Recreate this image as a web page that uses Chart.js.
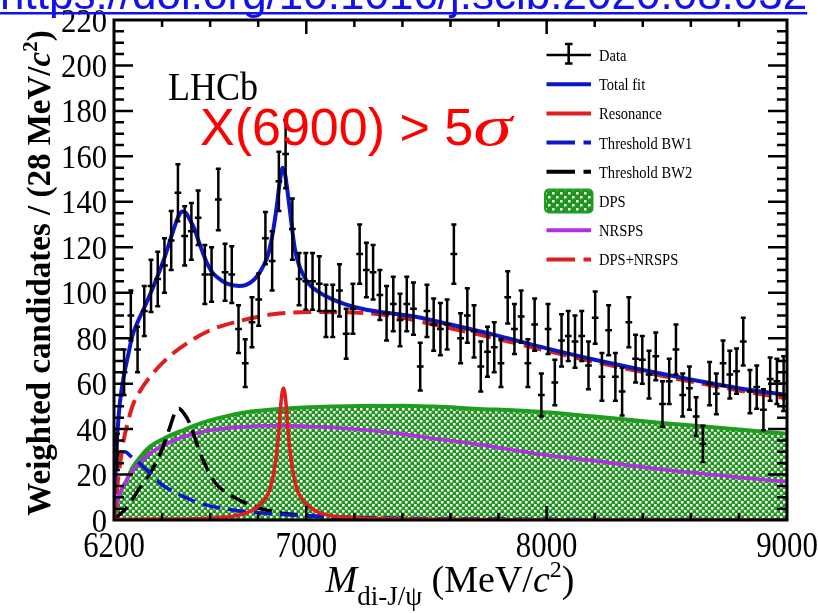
<!DOCTYPE html>
<html>
<head>
<meta charset="utf-8">
<title>LHCb di-J/psi mass spectrum</title>
<script src="https://cdn.jsdelivr.net/npm/chart.js@4.4.0/dist/chart.umd.min.js"></script>
<style>
  html, body { margin: 0; padding: 0; background: #fff; }
  #wrap { width: 818px; height: 613px; }
</style>
</head>
<body>
<div id="wrap"><canvas id="myChart" width="818" height="613"></canvas></div>
<script>
// bin centres of the 28 MeV bins and the weighted candidates in each
const massBins = [6214, 6242, 6270, 6298, 6326, 6354, 6382, 6410, 6438, 6466,
    6494, 6522, 6550, 6578, 6606, 6634, 6662, 6690, 6718, 6746,
    6774, 6802, 6830, 6858, 6886, 6914, 6942, 6970, 6998, 7026,
    7054, 7082, 7110, 7138, 7166, 7194, 7222, 7250, 7278, 7306,
    7334, 7362, 7390, 7418, 7446, 7474, 7502, 7530, 7558, 7586,
    7614, 7642, 7670, 7698, 7726, 7754, 7782, 7810, 7838, 7866,
    7894, 7922, 7950, 7978, 8006, 8034, 8062, 8090, 8118, 8146,
    8174, 8202, 8230, 8258, 8286, 8314, 8342, 8370, 8398, 8426,
    8454, 8482, 8510, 8538, 8566, 8594, 8622, 8650, 8678, 8706,
    8734, 8762, 8790, 8818, 8846, 8874, 8902, 8930, 8958, 8986];
const candidates = [30, 65, 90, 75, 92, 103, 106, 112, 123, 144,
    125, 127, 133, 108, 108, 141, 109, 108, 84, 69,
    87, 97, 124, 114, 149, 161, 128, 106, 105, 105,
    104, 92, 92, 101, 82, 93, 117, 110, 109, 99,
    91, 95, 88, 95, 93, 67.5, 92, 86, 84, 86,
    117, 80, 90, 83, 67.5, 74, 76, 69, 98, 84,
    89.5, 69, 86, 55, 84, 60.5, 79, 81, 78.5, 81,
    68, 89, 63, 83.5, 63, 56.5, 87, 71, 70.5, 64,
    72, 51, 61, 75, 55, 58, 45.5, 33.5, 60, 55.5,
    69, 64, 65.5, 78.5, 56.5, 58.5, 48.5, 62, 61, 60];
const candErrors = [8, 10, 11, 10, 11, 11.5, 12, 12, 13, 12.5,
    13, 12.5, 12, 13, 12, 13.5, 12.5, 12.5, 10.5, 10.5,
    11, 11.5, 11.5, 13, 13, 15, 13.5, 11.5, 12.5, 12.5,
    12, 11.5, 11.5, 11.5, 11, 11, 13, 12, 12, 11,
    12, 12, 11.5, 12, 11.5, 10.5, 11.5, 11.5, 11.5, 11,
    13, 11, 12, 11.5, 11, 11, 11, 10.5, 11.5, 11,
    11.5, 10.5, 11.5, 9.5, 11, 10, 11.5, 11, 11.5, 11,
    10.5, 11.5, 10.5, 11, 10.5, 10.5, 11, 10.5, 10.5, 10.5,
    10.5, 10, 10, 11, 9.5, 9.5, 8.5, 8, 9.5, 9,
    10, 10.5, 10, 10.5, 9.5, 9.5, 9, 9.5, 10, 12];
const binHalfWidth = 14;

// fit curves
const totalFitMass = [6200, 6205, 6211, 6218, 6225, 6240, 6260, 6275, 6300, 6322, 6363, 6412, 6447, 6470, 6485, 6500, 6516, 6535, 6551, 6570, 6585, 6605, 6627, 6670, 6720, 6750, 6780, 6800, 6820, 6842, 6860, 6876, 6890, 6902, 6912, 6925, 6940, 6953, 6970, 6987, 7010, 7049, 7100, 7160, 7250, 7350, 7450, 7600, 7800, 8000, 8200, 8400, 8600, 8800, 9000];
const totalFitValues = [8, 24, 34, 44, 52, 63, 73, 80.5, 87.5, 92.5, 102.5, 116, 127.5, 134, 135.7, 135, 132, 128, 123, 117.5, 113.5, 109.5, 107, 104, 103, 103.5, 105.5, 108, 111.5, 117, 126, 137, 149, 155, 152, 142, 129, 119, 112, 108, 104, 100.5, 97.5, 95, 92.5, 91, 89.5, 86, 81, 75.5, 70.5, 66, 61.8, 58, 55];

const resonanceMass = [6200, 6400, 6600, 6700, 6750, 6800, 6830, 6850, 6870, 6885, 6895, 6905, 6915, 6925, 6940, 6960, 6980, 7010, 7060, 7110, 7200, 7400, 8000, 9000];
const resonanceValues = [0.2, 0.4, 0.8, 1.8, 3, 6, 9.5, 14, 24, 38, 52, 58, 52, 38, 24, 14, 9.5, 6, 3, 1.8, 1, 0.4, 0.1, 0];

const bw1Mass = [6200, 6205, 6210, 6225, 6245, 6270, 6300, 6350, 6400, 6450, 6500, 6550, 6600, 6700, 6800, 6900, 7000, 7200, 7500, 8000, 9000];
const bw1Values = [5, 16, 24, 29, 30, 28, 25.5, 20.5, 15.5, 12.3, 9.8, 7.6, 6.2, 4.3, 3.2, 2.4, 1.8, 1.1, 0.6, 0.3, 0.1];

const bw2Mass = [6200, 6250, 6300, 6350, 6400, 6430, 6455, 6470, 6490, 6515, 6540, 6560, 6590, 6620, 6660, 6700, 6750, 6800, 6900, 7000, 7100, 7300, 7600, 8000, 9000];
const bw2Values = [0.5, 5, 13, 20.5, 31, 40, 47.5, 49, 47, 42.5, 35, 29, 22, 16.5, 12.5, 10, 7.3, 5.3, 3, 2, 1.3, 0.7, 0.3, 0.1, 0];

const dpsMass = [6200, 6205, 6212, 6225, 6250, 6280, 6315, 6350, 6420, 6490, 6560, 6630, 6770, 6970, 7250, 7400, 7530, 7700, 7950, 8200, 8500, 8750, 9000];
const dpsValues = [0, 4, 7.5, 11.7, 17, 23.5, 28.5, 32.3, 36.5, 39.6, 42.5, 44.7, 47.7, 49.4, 50.2, 50.3, 49.9, 49, 47.7, 45.5, 42.5, 40.3, 38];

const nrspsMass = [6200, 6205, 6212, 6225, 6250, 6280, 6315, 6350, 6420, 6490, 6560, 6630, 6730, 6830, 6940, 7040, 7150, 7250, 7400, 7530, 7700, 7950, 8200, 8500, 8750, 9000];
const nrspsValues = [0, 4, 7.5, 12, 17, 22, 26, 29.3, 33.5, 36.7, 38.6, 39.9, 40.9, 41.5, 41.4, 41, 40.4, 39.6, 37.8, 35.9, 33.5, 29.3, 26, 22, 19.3, 16.8];

const dpsNrspsMass = [6200, 6206, 6212, 6218, 6228, 6240, 6260, 6280, 6310, 6350, 6420, 6500, 6600, 6720, 6860, 7040, 7250, 7400, 7550, 7700, 8000, 8200, 8500, 8800, 9000];
const dpsNrspsValues = [0, 7, 13, 19, 27, 35, 44, 51, 57, 63, 71, 77.5, 83.5, 87.5, 90.5, 91.5, 91, 89, 85.5, 82, 74.5, 69.5, 63, 57, 53.5];

const xTickLabels = [6200, 7000, 8000, 9000];
const yTickLabels = [0, 20, 40, 60, 80, 100, 120, 140, 160, 180, 200, 220];
const legendOrder = ['Data', 'Total fit', 'Resonance', 'Threshold BW1', 'Threshold BW2', 'DPS', 'NRSPS', 'DPS+NRSPS'];

const SERIF = "'Liberation Serif', 'DejaVu Serif', serif";
const SANS = "'Liberation Sans', Arial, sans-serif";
const GREEN = '#1f9d1f';
const DASH = [18, 8];

function toPoints(xs, ys) {
    return xs.map((x, i) => ({ x: x, y: ys[i] }));
}

function makeHatch(size, dot) {
    const c = document.createElement('canvas');
    c.width = size; c.height = size;
    const g = c.getContext('2d');
    g.fillStyle = '#1e961e';
    g.fillRect(0, 0, size, size);
    g.fillStyle = '#ffffff';
    g.fillRect(0, 0, dot, dot);
    g.fillRect(size / 2, size / 2, dot, dot);
    return g.createPattern(c, 'repeat');
}

function drawRuns(g, runs, x0, baseY, align) {
    let total = 0;
    runs.forEach(r => { g.font = r.font; r.w = g.measureText(r.text).width * (r.sx || 1); total += r.w; });
    let x = align === 'center' ? x0 - total / 2 : x0;
    g.textAlign = 'left';
    runs.forEach(r => {
        g.save();
        g.translate(x, baseY + (r.dy || 0));
        g.scale(r.sx || 1, 1);
        g.font = r.font;
        g.fillText(r.text, 0, 0);
        g.restore();
        x += r.w;
    });
}

function squeezedText(g, text, x, y, font, sx, align) {
    g.save();
    g.translate(x, y);
    g.scale(sx, 1);
    g.font = font;
    g.textAlign = align;
    g.textBaseline = 'alphabetic';
    g.fillText(text, 0, 0);
    g.restore();
}

const decorPlugin = {
    id: 'decor',
    afterDatasetsDraw(chart) {
        const g = chart.ctx;
        const xs = chart.scales.x, ys = chart.scales.y;
        const area = chart.chartArea;

        // data points with error bars
        g.save();
        g.strokeStyle = '#000';
        g.lineWidth = 2.5;
        massBins.forEach((m, i) => {
            const v = candidates[i], e = candErrors[i];
            const px = xs.getPixelForValue(m);
            const py = ys.getPixelForValue(v);
            const top = ys.getPixelForValue(v + e);
            const bot = ys.getPixelForValue(Math.max(v - e, 0));
            const left = xs.getPixelForValue(m - binHalfWidth);
            const right = xs.getPixelForValue(m + binHalfWidth);
            g.beginPath();
            g.moveTo(px, top); g.lineTo(px, bot);
            g.moveTo(left, py); g.lineTo(right, py);
            g.moveTo(px - 2.5, top); g.lineTo(px + 2.5, top);
            g.moveTo(px - 2.5, bot); g.lineTo(px + 2.5, bot);
            g.stroke();
        });
        g.restore();

        // frame and inward ticks
        g.save();
        g.strokeStyle = '#000';
        g.lineWidth = 3;
        g.strokeRect(area.left, area.top, area.right - area.left, area.bottom - area.top);
        g.lineWidth = 2.5;
        g.beginPath();
        for (let m = 6400; m < 9000; m += 200) {
            const px = xs.getPixelForValue(m);
            const len = xTickLabels.includes(m) ? 14 : 7;
            g.moveTo(px, area.bottom); g.lineTo(px, area.bottom - len);
            g.moveTo(px, area.top); g.lineTo(px, area.top + len);
        }
        for (let v = 5; v < 220; v += 5) {
            const py = ys.getPixelForValue(v);
            const len = v % 20 === 0 ? 19 : 10;
            g.moveTo(area.left, py); g.lineTo(area.left + len, py);
            g.moveTo(area.right, py); g.lineTo(area.right - len, py);
        }
        g.stroke();
        g.restore();
    },
    afterDraw(chart) {
        const g = chart.ctx;
        const xs = chart.scales.x, ys = chart.scales.y;
        g.save();
        g.fillStyle = '#000';

        // tick labels
        yTickLabels.forEach(v => {
            squeezedText(g, String(v), 107, ys.getPixelForValue(v) + 11.5, '34px ' + SERIF, 0.9, 'right');
        });
        xTickLabels.forEach(m => {
            squeezedText(g, String(m), xs.getPixelForValue(m), 557, '35px ' + SERIF, 0.88, 'center');
        });

        // axis titles
        drawRuns(g, [
            { text: 'M', font: 'italic 38px ' + SERIF },
            { text: 'di-J/\u03c8', font: '27px ' + SERIF, dy: 13 },
            { text: ' (MeV/', font: '38px ' + SERIF },
            { text: 'c', font: 'italic 38px ' + SERIF },
            { text: '2', font: '24px ' + SERIF, dy: -15 },
            { text: ')', font: '38px ' + SERIF }
        ], 450, 592, 'center');

        g.save();
        g.translate(50, 273);
        g.rotate(-Math.PI / 2);
        drawRuns(g, [
            { text: 'Weighted candidates / (28 MeV/', font: 'bold 33px ' + SERIF },
            { text: 'c', font: 'italic bold 33px ' + SERIF },
            { text: '2', font: 'bold 21px ' + SERIF, dy: -13 },
            { text: ')', font: 'bold 33px ' + SERIF }
        ], 0, 0, 'center');
        g.restore();

        // labels inside the frame
        squeezedText(g, 'LHCb', 168, 100, '40px ' + SERIF, 0.9, 'left');
        g.fillStyle = '#ff0000';
        drawRuns(g, [
            { text: 'X(6900) > 5', font: '52px ' + SANS },
            { text: '\u03c3', font: 'italic 56px ' + SERIF, sx: 1.4 }
        ], 200, 145, 'left');

        // reference link, cut by the top edge
        g.fillStyle = '#1010f0';
        g.font = '44px ' + SANS;
        g.textAlign = 'left';
        const url = 'https://doi.org/10.1016/j.scib.2020.08.032';
        g.fillText(url, 0, 9);
        g.fillRect(0, 12, g.measureText(url).width, 2.5);

        // legend
        const sets = chart.data.datasets;
        legendOrder.forEach((name, k) => {
            const ds = sets.find(d => d.label === name);
            const y = 55 + k * 29.2;
            g.save();
            if (name === 'Data') {
                g.strokeStyle = '#000';
                g.lineWidth = 2.6;
                g.beginPath();
                g.moveTo(546.5, y); g.lineTo(591, y);
                g.moveTo(568.7, y - 11); g.lineTo(568.7, y + 8.5);
                g.moveTo(565, y - 11); g.lineTo(572.5, y - 11);
                g.moveTo(565, y + 8.5); g.lineTo(572.5, y + 8.5);
                g.stroke();
            } else if (name === 'DPS') {
                g.fillStyle = makeHatch(8, 2.5);
                g.beginPath();
                g.roundRect(545, y - 11.5, 47.5, 23, 4);
                g.fill();
                g.strokeStyle = GREEN;
                g.lineWidth = 2;
                g.stroke();
            } else {
                g.strokeStyle = ds.borderColor;
                g.lineWidth = 4;
                g.beginPath();
                if (ds.borderDash) {
                    g.moveTo(546.5, y); g.lineTo(575, y);
                    g.moveTo(583.5, y); g.lineTo(591, y);
                } else {
                    g.moveTo(546.5, y); g.lineTo(591, y);
                }
                g.stroke();
            }
            g.restore();
            g.fillStyle = '#000';
            squeezedText(g, name, 599, y + 6, '16.5px ' + SERIF, 0.88, 'left');
        });
        g.restore();
    }
};

const ctx = document.getElementById('myChart').getContext('2d');
const myChart = new Chart(ctx, {
    type: 'line',
    data: {
        datasets: [
            { label: 'Data', data: toPoints(massBins, candidates), showLine: false, pointRadius: 0, order: 0 },
            { label: 'Total fit', data: toPoints(totalFitMass, totalFitValues), borderColor: '#0c18c8', borderWidth: 4, order: 1 },
            { label: 'DPS+NRSPS', data: toPoints(dpsNrspsMass, dpsNrspsValues), borderColor: '#e01e1e', borderWidth: 4, borderDash: DASH, order: 2 },
            { label: 'Resonance', data: toPoints(resonanceMass, resonanceValues), borderColor: '#e01e1e', borderWidth: 3.6, order: 3 },
            { label: 'Threshold BW1', data: toPoints(bw1Mass, bw1Values), borderColor: '#0c18c8', borderWidth: 3.6, borderDash: DASH, order: 4 },
            { label: 'Threshold BW2', data: toPoints(bw2Mass, bw2Values), borderColor: '#000000', borderWidth: 3.6, borderDash: DASH, order: 5 },
            { label: 'NRSPS', data: toPoints(nrspsMass, nrspsValues), borderColor: '#b030e0', borderWidth: 3.6, order: 6 },
            { label: 'DPS', data: toPoints(dpsMass, dpsValues), borderColor: GREEN, borderWidth: 4, fill: 'origin', backgroundColor: makeHatch(6, 2.5), order: 7 }
        ]
    },
    options: {
        responsive: false,
        animation: false,
        layout: { padding: { left: 114, right: 31, top: 20, bottom: 93 } },
        elements: {
            point: { radius: 0 },
            line: { cubicInterpolationMode: 'monotone' }
        },
        scales: {
            x: { type: 'linear', min: 6200, max: 9000, display: false },
            y: { min: 0, max: 220, display: false }
        },
        plugins: {
            legend: { display: false },
            tooltip: { enabled: false }
        }
    },
    plugins: [decorPlugin]
});
</script>
</body>
</html>
